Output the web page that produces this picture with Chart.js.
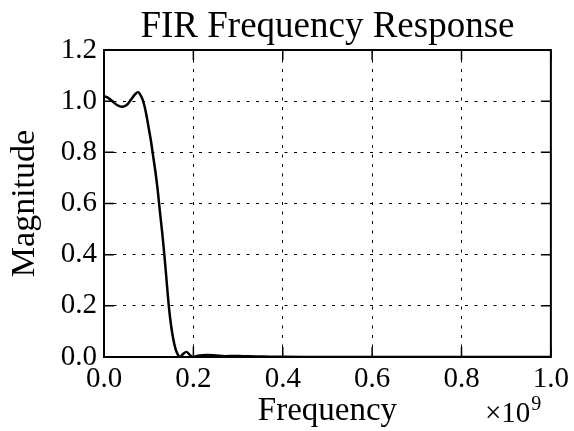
<!DOCTYPE html>
<html lang="en">
<head>
  <meta charset="UTF-8" />
  <title>FIR Frequency Response</title>
  <script src="https://cdn.jsdelivr.net/npm/chart.js"></script>
  <style>
    body {
      margin: 0;
      background-color: #fff;
    }
    canvas {
      display: block;
    }
  </style>
</head>
<body>
  <canvas id="firChart" width="574" height="431"></canvas>

  <script>
    // frequency in units of 1e9 Hz
    const freq = [
      0.000, 0.010, 0.020, 0.030, 0.040, 0.050, 0.060, 0.070, 0.077, 0.085,
      0.090, 0.095, 0.100, 0.105, 0.110, 0.115, 0.120, 0.125, 0.130, 0.135,
      0.140, 0.145, 0.150, 0.155, 0.160, 0.165, 0.170, 0.177, 0.185, 0.192,
      0.198, 0.210, 0.230, 0.250, 0.270, 0.290, 0.310, 0.340, 0.370, 0.400,
      0.500, 0.600, 0.700, 0.800, 0.900, 1.000
    ];
    const magnitude = [
      1.020, 1.012, 0.998, 0.984, 0.978, 0.984, 1.005, 1.028, 1.035, 1.012,
      0.985, 0.945, 0.895, 0.845, 0.785, 0.725, 0.655, 0.570, 0.490, 0.400,
      0.300, 0.200, 0.125, 0.070, 0.032, 0.010, 0.000, 0.012, 0.020, 0.008,
      0.000, 0.005, 0.008, 0.006, 0.003, 0.004, 0.003, 0.002, 0.001, 0.0005,
      0.000, 0.000, 0.000, 0.000, 0.000, 0.000
    ];
    const xTicks = [0.0, 0.2, 0.4, 0.6, 0.8, 1.0];
    const yTicks = [0.0, 0.2, 0.4, 0.6, 0.8, 1.0, 1.2];
    const chartTitle = 'FIR Frequency Response';

    const serif = "'Liberation Serif', 'Times New Roman', serif";

    // title over the plot area, frame, inward tick marks and the x10^9 offset text
    const framePlugin = {
      id: 'frame',
      afterDatasetsDraw(chart) {
        const { ctx, chartArea: a, scales } = chart;
        const len = 10;
        ctx.save();
        ctx.strokeStyle = '#000';
        ctx.lineWidth = 1.5;
        ctx.beginPath();
        scales.x.ticks.forEach(t => {
          const px = scales.x.getPixelForValue(t.value);
          ctx.moveTo(px, a.bottom); ctx.lineTo(px, a.bottom - len);
          ctx.moveTo(px, a.top); ctx.lineTo(px, a.top + len);
        });
        scales.y.ticks.forEach(t => {
          const py = scales.y.getPixelForValue(t.value);
          ctx.moveTo(a.left, py); ctx.lineTo(a.left + len, py);
          ctx.moveTo(a.right, py); ctx.lineTo(a.right - len, py);
        });
        ctx.stroke();
        ctx.lineWidth = 2;
        ctx.strokeRect(a.left, a.top, a.right - a.left, a.bottom - a.top);

        ctx.fillStyle = '#000';
        ctx.textBaseline = 'alphabetic';
        ctx.textAlign = 'center';
        ctx.font = '37px ' + serif;
        ctx.fillText(chartTitle, (a.left + a.right) / 2, 37);

        ctx.textAlign = 'left';
        ctx.font = '29px ' + serif;
        ctx.fillText('\u00d710', 485, 422);
        const w = ctx.measureText('\u00d710').width;
        ctx.font = '20px ' + serif;
        ctx.fillText('9', 485 + w + 1, 410);
        ctx.restore();
      }
    };

    const ctx = document.getElementById('firChart').getContext('2d');
    new Chart(ctx, {
      type: 'line',
      data: {
        datasets: [{
          data: freq.map((f, i) => ({ x: f, y: magnitude[i] })),
          borderColor: '#000',
          borderWidth: 2.5,
          pointRadius: 0,
          fill: false,
          tension: 0.3
        }]
      },
      options: {
        responsive: false,
        animation: false,
        layout: { padding: { left: 0, right: 22, top: 50, bottom: 0 } },
        plugins: {
          legend: { display: false },
          tooltip: { enabled: false },
          title: { display: false }
        },
        scales: {
          x: {
            type: 'linear',
            min: 0,
            max: 1,
            afterBuildTicks: s => { s.ticks = xTicks.map(v => ({ value: v })); },
            afterFit: s => { s.height = 74; },
            ticks: {
              color: '#000',
              padding: 5,
              font: { family: serif, size: 29 },
              callback: v => v.toFixed(1)
            },
            grid: { color: '#000', lineWidth: 1, drawTicks: false },
            border: { display: false, dash: [3, 6.5] },
            title: {
              display: true,
              text: 'Frequency',
              color: '#000',
              font: { family: serif, size: 33 },
              padding: { top: 0, bottom: 0 }
            }
          },
          y: {
            min: 0,
            max: 1.2,
            afterBuildTicks: s => { s.ticks = yTicks.map(v => ({ value: v })); },
            afterFit: s => { s.width = 104; },
            ticks: {
              color: '#000',
              padding: 7,
              font: { family: serif, size: 29 },
              callback: v => v.toFixed(1)
            },
            grid: { color: '#000', lineWidth: 1, drawTicks: false },
            border: { display: false, dash: [3, 6.5] },
            title: {
              display: true,
              text: 'Magnitude',
              color: '#000',
              font: { family: serif, size: 34 },
              padding: { top: 4.6, bottom: 0 }
            }
          }
        }
      },
      plugins: [framePlugin]
    });
  </script>
</body>
</html>
